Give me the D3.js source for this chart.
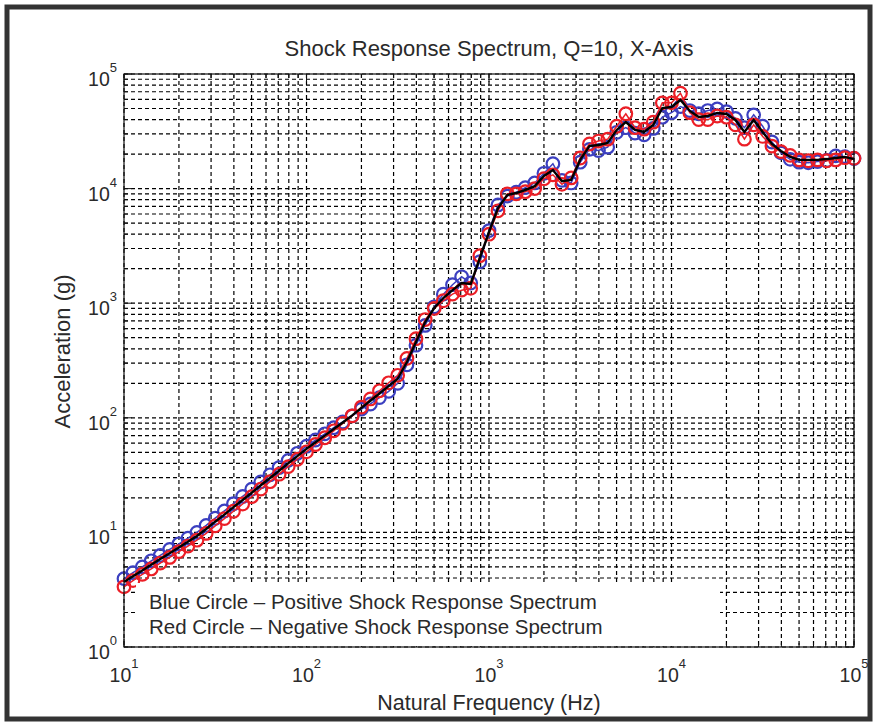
<!DOCTYPE html>
<html>
<head>
<meta charset="utf-8">
<script src="https://cdn.jsdelivr.net/npm/d3@7"></script>
<style>
  body { margin: 0; background: #fff; }
  text { font-family: "Liberation Sans", Arial, sans-serif; fill: #2a2a2a; }
</style>
</head>
<body>
<svg id="srs"></svg>
<script>
// natural frequencies (Hz)
const freqHz = [
  10, 11.2, 12.6, 14.1, 15.8, 17.8, 20.0, 22.4, 25.1, 28.2, 31.6, 35.5, 39.8, 44.7, 50.1, 56.2, 63.1, 70.8, 79.4, 89.1,
  100, 112, 126, 141, 158, 178, 200, 224, 251, 282, 316, 355, 398, 447, 501, 562, 631, 708, 794, 891,
  1000, 1120, 1260, 1410, 1580, 1780, 2000, 2240, 2510, 2820, 3160, 3550, 3980, 4470, 5010, 5620, 6310, 7080, 7940, 8910,
  10000, 11200, 12600, 14100, 15800, 17800, 20000, 22400, 25100, 28200, 31600, 35500, 39800, 44700, 50100, 56200, 63100, 70800, 79400, 89100, 100000
];

// positive SRS (blue circles), g
const posSRS = [
  3.95, 4.45, 5.0, 5.65, 6.3, 7.1, 7.95, 8.9, 10.0, 11.5,
  13.3, 15.4, 17.8, 20.6, 23.8, 27.6, 31.8, 36.8, 42.5, 49.0,
  56.5, 64.0, 72.5, 82.0, 92.0, 104, 119, 132, 150, 170,
  200, 290, 430, 640, 930, 1200, 1450, 1700, 1500, 2300,
  4300, 7200, 8600, 9300, 10200, 11200, 13600, 16500, 11800, 11200,
  17000, 22000, 21500, 23000, 31000, 34000, 30500, 29500, 33500, 42000,
  46000, 52000, 48000, 45000, 48000, 49500, 47000, 41000, 34000, 44000,
  35000, 25500, 20500, 18000, 17000, 16800, 17200, 17600, 19300, 19000, 18300
];

// negative SRS (red circles), g
const negSRS = [
  3.35, 3.8, 4.3, 4.8, 5.4, 6.05, 6.8, 7.6, 8.55, 9.8,
  11.4, 13.2, 15.3, 17.7, 20.5, 23.9, 27.7, 32.2, 37.5, 43.5,
  50.5, 58.5, 67.0, 77.0, 89.5, 104, 124, 146, 172, 202,
  235, 330, 490, 720, 900, 1050, 1200, 1300, 1350, 2600,
  4000, 6400, 9000, 9000, 9400, 10000, 12200, 13200, 10900, 12400,
  18500, 24500, 26000, 27000, 35000, 45000, 34000, 33000, 38000, 56000,
  56000, 68000, 46000, 40000, 40000, 43000, 42000, 36000, 27000, 36000,
  28500, 23500, 21000, 19500, 17800, 17500, 17800, 17500, 17800, 18600, 18400
];

// black trace through the middle, g
const midSRS = [
  3.69, 4.14, 4.65, 5.23, 5.86, 6.57, 7.38, 8.28, 9.30, 10.7,
  12.4, 14.3, 16.6, 19.2, 22.2, 25.8, 29.8, 34.5, 40.0, 46.3,
  53.6, 61.2, 69.9, 79.9, 91.0, 105, 122, 141, 163, 189,
  219, 307, 459, 685, 908, 1110, 1300, 1500, 1470, 2480,
  4180, 6770, 8800, 9150, 9720, 10500, 12900, 14500, 11600, 11900,
  17800, 23500, 24000, 25000, 32500, 38100, 32500, 31200, 35900, 50500,
  51500, 59300, 47600, 42100, 43000, 45700, 44800, 39700, 31200, 39700,
  31200, 24500, 21300, 18900, 17800, 17800, 17800, 18100, 18500, 18900, 18100
];

const xTickExp = [1, 2, 3, 4, 5];
const yTickExp = [0, 1, 2, 3, 4, 5];
const legendLines = [
  "Blue Circle \u2013 Positive Shock Response Spectrum",
  "Red Circle \u2013 Negative Shock Response Spectrum"
];

const W = 877, H = 725;
const margin = {top: 74, right: 23, bottom: 78, left: 124},
  width = W - margin.left - margin.right,
  height = H - margin.top - margin.bottom;

const root = d3.select("#srs").attr("width", W).attr("height", H);

// outer frame
root.append("rect")
  .attr("x", 7).attr("y", 7)
  .attr("width", W - 14).attr("height", H - 13)
  .attr("fill", "#fff")
  .attr("stroke", "#333")
  .attr("stroke-width", 5);

const svg = root.append("g")
  .attr("transform", `translate(${margin.left},${margin.top})`);

const x = d3.scaleLog().domain([10, 1e5]).range([0, width]);
const y = d3.scaleLog().domain([1, 1e5]).range([height, 0]);

// dashed grid, every 1..9 per decade
const grid = svg.append("g")
  .attr("stroke", "#000")
  .attr("stroke-width", 1.2)
  .attr("stroke-dasharray", "4,3");

grid.selectAll(".gx").data(x.ticks()).join("line")
  .attr("x1", d => x(d)).attr("x2", d => x(d))
  .attr("y1", 0).attr("y2", height);

grid.selectAll(".gy").data(y.ticks()).join("line")
  .attr("x1", 0).attr("x2", width)
  .attr("y1", d => y(d)).attr("y2", d => y(d));

// inward ticks on all four sides
const ticks = svg.append("g").attr("stroke", "#111").attr("stroke-width", 1);
x.ticks().forEach(d => {
  const len = xTickExp.includes(Math.round(Math.log10(d) * 1000) / 1000) ? 8 : 4;
  ticks.append("line").attr("x1", x(d)).attr("x2", x(d)).attr("y1", height).attr("y2", height - len);
  ticks.append("line").attr("x1", x(d)).attr("x2", x(d)).attr("y1", 0).attr("y2", len);
});
y.ticks().forEach(d => {
  const len = yTickExp.includes(Math.round(Math.log10(d) * 1000) / 1000) ? 8 : 4;
  ticks.append("line").attr("y1", y(d)).attr("y2", y(d)).attr("x1", 0).attr("x2", len);
  ticks.append("line").attr("y1", y(d)).attr("y2", y(d)).attr("x1", width).attr("x2", width - len);
});

// the three traces
const line = d3.line()
  .x((d, i) => x(freqHz[i]))
  .y(d => y(d));

function drawCircles(values, color) {
  svg.append("path")
    .datum(values)
    .attr("d", line)
    .attr("fill", "none")
    .attr("stroke", color)
    .attr("stroke-width", 1.5);
  svg.append("g")
    .selectAll("circle")
    .data(values)
    .join("circle")
      .attr("cx", (d, i) => x(freqHz[i]))
      .attr("cy", d => y(d))
      .attr("r", 6.3)
      .attr("fill", "none")
      .attr("stroke", color)
      .attr("stroke-width", 2.2);
}

drawCircles(posSRS, "#3b3fc0");
drawCircles(negSRS, "#ec1e26");

svg.append("path")
  .datum(midSRS)
  .attr("d", line)
  .attr("fill", "none")
  .attr("stroke", "#000")
  .attr("stroke-width", 2.4);

// legend box (plain white, no edge)
svg.append("rect")
  .attr("x", 12).attr("y", 509)
  .attr("width", 584).attr("height", height - 510)
  .attr("fill", "#fff");

svg.selectAll(".leg").data(legendLines).join("text")
  .attr("x", 25)
  .attr("y", (d, i) => 535 + i * 25)
  .attr("font-size", 20.5)
  .text(d => d);

// axes box
svg.append("rect")
  .attr("width", width).attr("height", height)
  .attr("fill", "none")
  .attr("stroke", "#111")
  .attr("stroke-width", 1.2);

// tick labels 10^n
xTickExp.forEach(e => {
  const t = svg.append("text")
    .attr("x", x(Math.pow(10, e)))
    .attr("y", height + 35)
    .attr("text-anchor", "middle")
    .attr("font-size", 19.5);
  t.append("tspan").text("10");
  t.append("tspan").attr("dy", -14).attr("font-size", 13).text(e);
});

yTickExp.forEach(e => {
  const t = svg.append("text")
    .attr("x", -7)
    .attr("y", y(Math.pow(10, e)) + 12)
    .attr("text-anchor", "end")
    .attr("font-size", 19.5);
  t.append("tspan").text("10");
  t.append("tspan").attr("dy", -14).attr("font-size", 13).text(e);
});

// titles
svg.append("text")
  .attr("x", width / 2).attr("y", -18)
  .attr("text-anchor", "middle")
  .attr("font-size", 22)
  .text("Shock Response Spectrum, Q=10, X-Axis");

svg.append("text")
  .attr("x", width / 2).attr("y", height + 63)
  .attr("text-anchor", "middle")
  .attr("font-size", 21.5)
  .text("Natural Frequency (Hz)");

svg.append("text")
  .attr("transform", `translate(${-54},${height / 2 - 9}) rotate(-90)`)
  .attr("text-anchor", "middle")
  .attr("font-size", 22)
  .text("Acceleration (g)");
</script>
</body>
</html>
